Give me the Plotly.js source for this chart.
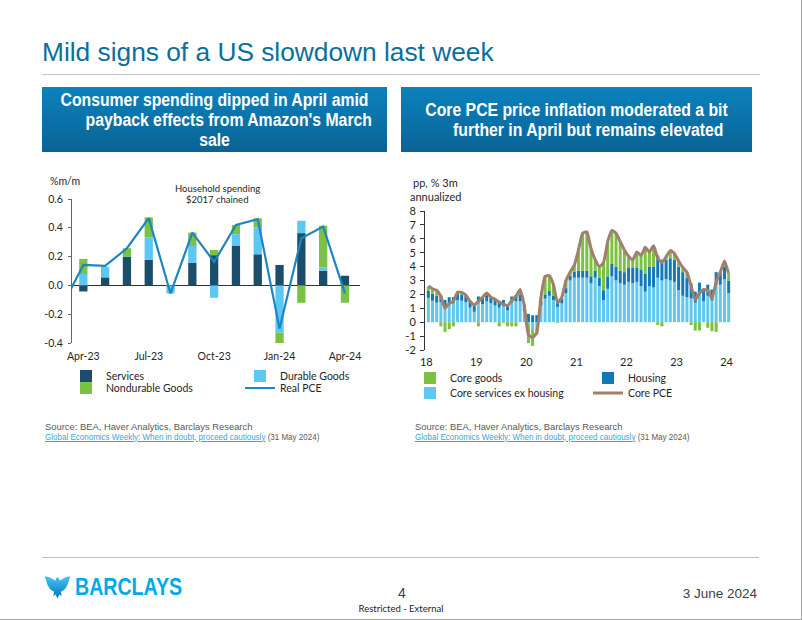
<!DOCTYPE html>
<html><head><meta charset="utf-8">
<script src="https://cdn.plot.ly/plotly-3.0.1.min.js"></script>
<style>
html,body{margin:0;padding:0;background:#fff}
body{width:802px;height:620px;position:relative;overflow:hidden;font-family:"Liberation Sans",Arial,sans-serif}
.abs{position:absolute}
#title{left:42px;top:39px;font-size:26.3px;line-height:26px;color:#0a6f9b;white-space:nowrap}
.rule{position:absolute;left:42px;width:718px;height:1px;background:#c6c6c6}
.hbox{position:absolute;top:87px;height:65px;background:linear-gradient(#0b82bd,#0a6395);overflow:hidden}
.htxt{position:absolute;left:0;top:0;height:65px;display:flex;flex-direction:column;justify-content:center;align-items:center;color:#fff;font-weight:bold;font-size:18.8px;line-height:20px;transform:scaleX(0.84);transform-origin:0 0;white-space:nowrap;text-align:center}
.src{position:absolute;top:422px;font-size:9.4px;line-height:9.6px;color:#595959;white-space:nowrap}
.lnk{color:#35a8e0;text-decoration:underline}
.l2{display:inline-block;transform:scaleX(0.855);transform-origin:0 0}
#c1{position:absolute;left:0;top:160px;width:400px;height:250px}
#c2{position:absolute;left:400px;top:160px;width:402px;height:250px}
</style></head>
<body>
<div id="title" class="abs">Mild signs of a US slowdown last week</div>
<div class="rule" style="top:74px"></div>
<div class="hbox" style="left:42px;width:345px">
  <div class="htxt" style="width:410.7px">
    <div>Consumer spending dipped in April amid</div>
    <div style="position:relative;left:17px">payback effects from Amazon's March</div>
    <div>sale</div>
  </div>
</div>
<div class="hbox" style="left:401px;width:351px">
  <div class="htxt" style="width:417.9px">
    <div>Core PCE price inflation moderated a bit</div>
    <div style="position:relative;left:14px">further in April but remains elevated</div>
  </div>
</div>
<div id="c1"></div>
<div id="c2"></div>
<div class="src" style="left:45px">Source: BEA, Haver Analytics, Barclays Research<br><span class="l2"><span class="lnk">Global Economics Weekly: When in doubt, proceed cautiously</span> (31 May 2024)</span></div>
<div class="src" style="left:415px">Source: BEA, Haver Analytics, Barclays Research<br><span class="l2"><span class="lnk">Global Economics Weekly: When in doubt, proceed cautiously</span> (31 May 2024)</span></div>
<div class="rule" style="top:557px;width:717px;background:#bdbdbd"></div>
<svg class="abs" style="left:44px;top:575px" width="27" height="24" viewBox="0 0 27 24">
<defs><linearGradient id="eg" x1="0" y1="0" x2="0" y2="1"><stop offset="0" stop-color="#45c4f2"/><stop offset="1" stop-color="#0077c0"/></linearGradient></defs>
<path fill="url(#eg)" d="M13.5 2.5C12.2 2.5 11.6 3.8 12 5.4L9.4 4.6C6.6 2.8 3.4 0.8 0.6 1.8 2.2 4.8 2.3 8 4.2 11 5.3 13.8 7.4 15.8 10.2 16.8L9.2 21 11.6 19.6 13.5 23.4 15.4 19.6 17.8 21 16.8 16.8C19.6 15.8 21.7 13.8 22.8 11 24.7 8 24.8 4.8 26.4 1.8 23.6 0.8 20.4 2.8 17.6 4.6L15 5.4C15.4 3.8 14.8 2.5 13.5 2.5Z"/>
</svg>
<div class="abs" style="left:75px;top:574px;font-size:24.5px;line-height:26px;font-weight:bold;color:#00a9e8;transform:scaleX(0.8);transform-origin:0 0;white-space:nowrap">BARCLAYS</div>
<div class="abs" style="left:382px;width:40px;top:585px;text-align:center;font-size:14px;line-height:16px;color:#404040">4</div>
<div class="abs" style="left:340px;width:122px;top:603px;text-align:center;font-family:Lato,sans-serif;font-size:9.5px;line-height:11px;color:#222">Restricted - External</div>
<div class="abs" style="left:657px;width:100px;top:586px;text-align:right;font-size:13.5px;line-height:16px;color:#404040">3 June 2024</div>
<div class="abs" style="left:801px;top:0;width:1px;height:620px;background:#a6a6a6"></div>
<div class="abs" style="left:0;top:619px;width:802px;height:1px;background:#a6a6a6"></div>

<script>
// ---------- Left chart data: Household spending, %m/m ----------
const months = ['Apr-23','May-23','Jun-23','Jul-23','Aug-23','Sep-23','Oct-23','Nov-23','Dec-23','Jan-24','Feb-24','Mar-24','Apr-24'];
const services   = [-0.042, 0.056, 0.200, 0.177, 0.000, 0.156, 0.210, 0.277, 0.216, 0.142, 0.363, 0.102, 0.067];
const durable    = [ 0.079, 0.074, 0.000, 0.156,-0.056, 0.118,-0.086, 0.079, 0.186,-0.328, 0.086, 0.024, 0.000];
const nondurable = [ 0.105, 0.000, 0.058, 0.139, 0.000, 0.093, 0.036, 0.064, 0.063,-0.079,-0.121, 0.288,-0.120];
const pceMonths  = ['Mar-23','Apr-23','May-23','Jun-23','Jul-23','Aug-23','Sep-23','Oct-23','Nov-23','Dec-23','Jan-24','Feb-24','Mar-24','Apr-24'];
const realPce    = [-0.15, 0.142, 0.135, 0.258, 0.467,-0.056, 0.367, 0.163, 0.420, 0.460,-0.300, 0.328, 0.409,-0.056];
const leftXTicks = ['Apr-23','Jul-23','Oct-23','Jan-24','Apr-24'];
const leftYVals  = [-0.4,-0.2,0,0.2,0.4,0.6];
const leftYText  = ['-0.4','-0.2','0.0','0.2','0.4','0.6'];

// ---------- Right chart data: Core PCE contributions, pp, % 3m annualized (Apr-18 .. Apr-24) ----------
const coreSvcExHousing = [1.75,1.55,1.40,1.45,1.05,1.30,1.35,1.60,1.55,1.45,1.05,0.75,1.40,1.30,1.50,1.35,1.20,1.05,1.15,0.85,1.40,1.50,1.50,0.80,
  -0.10,-0.50,-0.30,1.20,1.70,1.90,1.60,1.10,1.35,2.10,3.00,3.20,3.20,3.20,3.20,2.80,3.20,2.60,1.60,2.40,3.30,3.00,2.80,2.70,
  2.90,2.80,2.90,2.60,2.20,2.60,2.50,3.20,3.00,3.10,3.00,2.90,2.30,1.90,1.80,1.70,1.40,2.00,1.50,1.90,1.55,2.70,2.70,3.10,2.10];
const housing = [0.50,0.50,0.50,0.50,0.55,0.50,0.45,0.45,0.45,0.45,0.45,0.45,0.45,0.45,0.45,0.45,0.45,0.45,0.45,0.40,0.45,0.45,0.50,0.45,
  0.60,0.50,0.50,0.35,0.30,0.35,0.30,0.35,0.35,0.35,0.35,0.45,0.50,0.50,0.50,0.50,0.50,0.60,0.70,0.90,0.90,1.00,0.90,0.90,
  1.00,1.10,1.00,1.20,1.30,1.40,1.50,1.60,1.50,1.40,1.60,1.60,1.70,1.70,1.40,1.10,0.80,0.85,0.80,0.80,0.80,0.90,0.90,0.90,0.90];
const coreGoods = [0.30,0.30,0.35,-0.30,-0.70,-0.50,-0.30,0.10,0.10,0.05,0.00,0.05,-0.30,0.05,0.15,0.00,0.00,-0.30,-0.05,-0.30,-0.30,-0.30,0.35,0.00,
  -1.40,-1.20,-0.60,0.25,1.30,1.10,0.80,-0.05,0.10,0.55,0.25,0.45,1.50,2.70,2.80,2.00,0.80,0.80,2.00,2.50,2.40,2.40,2.10,1.60,
  0.85,0.60,1.15,1.00,1.90,1.05,1.50,-0.20,-0.30,0.20,0.55,0.45,0.40,0.35,0.40,-0.20,-0.60,-0.60,0.05,-0.40,-0.65,-0.70,0.00,0.40,0.50];
const corePce = [2.60,2.40,2.30,1.85,1.00,1.35,1.50,2.15,2.15,1.95,1.50,1.25,1.50,1.80,2.10,1.80,1.65,1.45,1.30,1.20,1.55,1.85,2.35,1.20,
  -0.90,-1.10,-0.75,1.80,3.30,3.35,2.70,1.40,1.80,3.00,3.60,4.10,5.20,6.40,6.50,5.30,4.50,4.00,4.30,5.80,6.60,6.40,5.80,5.20,
  4.75,4.50,5.05,4.80,5.40,5.05,5.50,4.60,4.30,4.70,5.15,4.95,4.40,3.95,3.60,2.60,1.60,2.10,2.35,2.30,1.70,2.90,3.60,4.40,3.50];
const rightXTickText = ['18','19','20','21','22','23','24'];
const rightXTickVals = [-0.5,11.5,23.5,35.5,47.5,59.5,71.5];
const rightYVals = [-2,-1,0,1,2,3,4,5,6,7,8];
const rightYText = ['-2','-1','0','1','2','3','4','5','6','7','8'];
const monthIdx = coreSvcExHousing.map((_, i) => i);

// ---------- helpers: page pixel -> paper coords for layout items ----------
function paper(box, px, py){
  const pw = box.w - box.m.l - box.m.r, ph = box.h - box.m.t - box.m.b;
  return {x:(px - box.left - box.m.l)/pw, y:1 - (py - box.top - box.m.t)/ph};
}
function leg(box, px, py, size){
  const p = paper(box, px, py);
  return {x:p.x, y:p.y, xanchor:'left', yanchor:'middle', orientation:'v', bgcolor:'rgba(0,0,0,0)',
          borderwidth:0, font:{family:'Lato, sans-serif', size:size, color:'#262626'}};
}
function ann(box, px, py, text, size, xanchor){
  const p = paper(box, px, py);
  return {xref:'paper', yref:'paper', x:p.x, y:p.y, xanchor:xanchor||'left', yanchor:'middle', text:text,
          showarrow:false, font:{family:'Lato, sans-serif', size:size, color:'#262626'}};
}

// ---------- Left chart ----------
const B1 = {left:0, top:160, w:400, h:250, m:{l:72, r:40, t:39, b:67}};
const t1 = [
  {type:'bar', name:'Services', x:months, y:services, marker:{color:'#1c4e6c'}, legend:'legend'},
  {type:'bar', name:'Durable Goods', x:months, y:durable, marker:{color:'#5cc7f1'}, legend:'legend2'},
  {type:'bar', name:'Nondurable Goods', x:months, y:nondurable, marker:{color:'#7bc143'}, legend:'legend3'},
  {type:'scatter', mode:'lines', name:'Real PCE', x:pceMonths, y:realPce, line:{color:'#1b86c2', width:2.2}, legend:'legend4'}
];
const l1 = {
  width:B1.w, height:B1.h, margin:{l:B1.m.l, r:B1.m.r, t:B1.m.t, b:B1.m.b, pad:0, autoexpand:false},
  paper_bgcolor:'rgba(0,0,0,0)', plot_bgcolor:'rgba(0,0,0,0)',
  barmode:'relative', bargap:0.62,
  font:{family:'Lato, sans-serif', size:10.5, color:'#262626'},
  xaxis:{type:'category', categoryorder:'array', categoryarray:pceMonths, range:[0.48,13.69],
         tickmode:'array', tickvals:leftXTicks, ticktext:leftXTicks, showline:false, showgrid:false, zeroline:false,
         ticks:'', ticklabelstandoff:5, tickfont:{size:10.5}},
  yaxis:{range:[-0.4,0.6], tickmode:'array', tickvals:leftYVals, ticktext:leftYText, showline:true, linecolor:'#666', linewidth:1,
         ticks:'outside', ticklen:3, tickcolor:'#666', showgrid:false, zeroline:true, zerolinecolor:'#333', zerolinewidth:1,
         ticklabelstandoff:3, tickfont:{size:10.5}},
  showlegend:true,
  legend: leg(B1, 66, 376, 10.5),
  legend2: leg(B1, 240, 376, 10.5),
  legend3: leg(B1, 66, 388, 10.5),
  legend4: leg(B1, 240, 388, 10.5),
  annotations:[
    ann(B1, 48, 181, '%m/m', 10.5),
    ann(B1, 217, 188, 'Household spending', 9.5, 'center'),
    ann(B1, 217, 199, '$2017 chained', 9.5, 'center')
  ]
};
Plotly.newPlot('c1', t1, l1, {staticPlot:true, displayModeBar:false});

// ---------- Right chart ----------
const B2 = {left:400, top:160, w:402, h:250, m:{l:25, r:55, t:51, b:60}};
const xr = [-0.8, 76.4];
const t2 = [
  {type:'bar', name:'Core services ex housing', x:monthIdx, y:coreSvcExHousing, marker:{color:'#60c7ef'}, legend:'legend3'},
  {type:'bar', name:'Housing', x:monthIdx, y:housing, marker:{color:'#1379b6'}, legend:'legend2'},
  {type:'bar', name:'Core goods', x:monthIdx, y:coreGoods, marker:{color:'#7cc142'}, legend:'legend'},
  {type:'scatter', mode:'lines', name:'Core PCE', x:monthIdx, y:corePce, line:{color:'#a0806d', width:3, shape:'spline', smoothing:0.5}, legend:'legend4'}
];
const l2 = {
  width:B2.w, height:B2.h, margin:{l:B2.m.l, r:B2.m.r, t:B2.m.t, b:B2.m.b, pad:0, autoexpand:false},
  paper_bgcolor:'rgba(0,0,0,0)', plot_bgcolor:'rgba(0,0,0,0)',
  barmode:'relative', bargap:0.28,
  font:{family:'Lato, sans-serif', size:11, color:'#262626'},
  xaxis:{range:xr, tickmode:'array', tickvals:rightXTickVals, ticktext:rightXTickText, showline:false, showgrid:false,
         zeroline:false, ticks:'', ticklabelstandoff:4, tickfont:{size:11}},
  xaxis2:{overlaying:'x', anchor:'free', position:0.2, range:xr, tickmode:'array', tickvals:rightXTickVals,
          showticklabels:false, ticks:'outside', ticklen:5, tickcolor:'#333', showline:true, linecolor:'#333', linewidth:1,
          showgrid:false, zeroline:false},
  yaxis:{range:[-2,8], tickmode:'array', tickvals:rightYVals, ticktext:rightYText, showline:true, linecolor:'#333', linewidth:1,
         ticks:'outside', ticklen:4, tickcolor:'#333', showgrid:false, zeroline:false, ticklabelstandoff:2, tickfont:{size:11}},
  showlegend:true,
  legend: leg(B2, 410, 378, 10.5),
  legend2: leg(B2, 588, 378, 10.5),
  legend3: leg(B2, 410, 393, 10.5),
  legend4: leg(B2, 588, 393, 10.5),
  annotations:[
    ann(B2, 411, 183, 'pp, % 3m', 11),
    ann(B2, 408, 196, 'annualized', 11)
  ]
};
Plotly.newPlot('c2', t2, l2, {staticPlot:true, displayModeBar:false});
</script>
</body></html>
